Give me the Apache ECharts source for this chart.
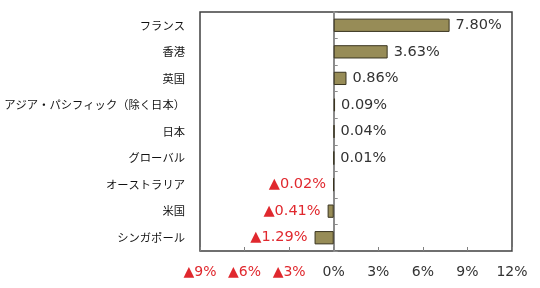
<!DOCTYPE html>
<html><head><meta charset="utf-8">
<script src="https://cdn.jsdelivr.net/npm/echarts@6/dist/echarts.min.js"></script>
<style>html,body{margin:0;padding:0;background:#fff}#c{width:540px;height:288px}</style>
</head><body><div id="c"></div>
<script>
const categories = ['フランス','香港','英国','アジア・パシフィック（除く日本）','日本','グローバル','オーストラリア','米国','シンガポール'];
const values = [7.80, 3.63, 0.86, 0.09, 0.04, 0.01, -0.02, -0.41, -1.29];
const xTicks = [-9, -6, -3, 0, 3, 6, 9, 12];

const fmtPct = (v, d) => (v < 0 ? '▲' : '') + Math.abs(v).toFixed(d) + '%';
const cats = categories.slice().reverse();
const vals = values.slice().reverse();

const chart = echarts.init(document.getElementById('c'));
chart.setOption({
  animation: false,
  grid: { left: 200, right: 28, top: 12, bottom: 37, show: true, borderColor: '#404040', borderWidth: 1.5,
          containLabel: false, outerBoundsMode: 'none' },
  xAxis: {
    type: 'value', min: xTicks[0], max: xTicks[xTicks.length - 1], interval: 3,
    splitLine: { show: false },
    axisLine: { show: false },
    axisTick: { show: true, inside: true, length: 4, lineStyle: { color: '#808080' } },
    axisLabel: {
      margin: 14, fontFamily: 'DejaVu Sans', fontSize: 14,
      formatter: v => fmtPct(v, 0),
      color: v => (v < 0 ? '#e0282e' : '#333333')
    }
  },
  yAxis: [{
    type: 'category', data: cats, position: 'left',
    axisLine: { show: false, onZero: false }, axisTick: { show: false },
    axisLabel: { margin: 15, fontFamily: 'Noto Sans CJK JP', fontSize: 11.3, color: '#111111' }
  }, {
    type: 'category', data: cats, position: 'left',
    axisLine: { show: true, onZero: true, lineStyle: { color: '#8c8c8c', width: 2 } },
    axisTick: { show: true, inside: true, length: 4, lineStyle: { color: '#8c8c8c' } },
    axisLabel: { show: false }
  }],
  series: [{
    type: 'bar', yAxisIndex: 0, barWidth: '50%',
    data: vals.map(v => v < 0 ? { value: v, label: { position: 'left', color: '#e0282e', distance: 7 } } : v),
    itemStyle: { color: '#978c57', borderColor: '#3a3520', borderWidth: 1 },
    label: {
      show: true, distance: 6, fontFamily: 'DejaVu Sans', fontSize: 14.5,
      position: 'right',
      formatter: p => fmtPct(p.value, 2),
      color: '#333333'
    }
  }]
});
</script></body></html>
